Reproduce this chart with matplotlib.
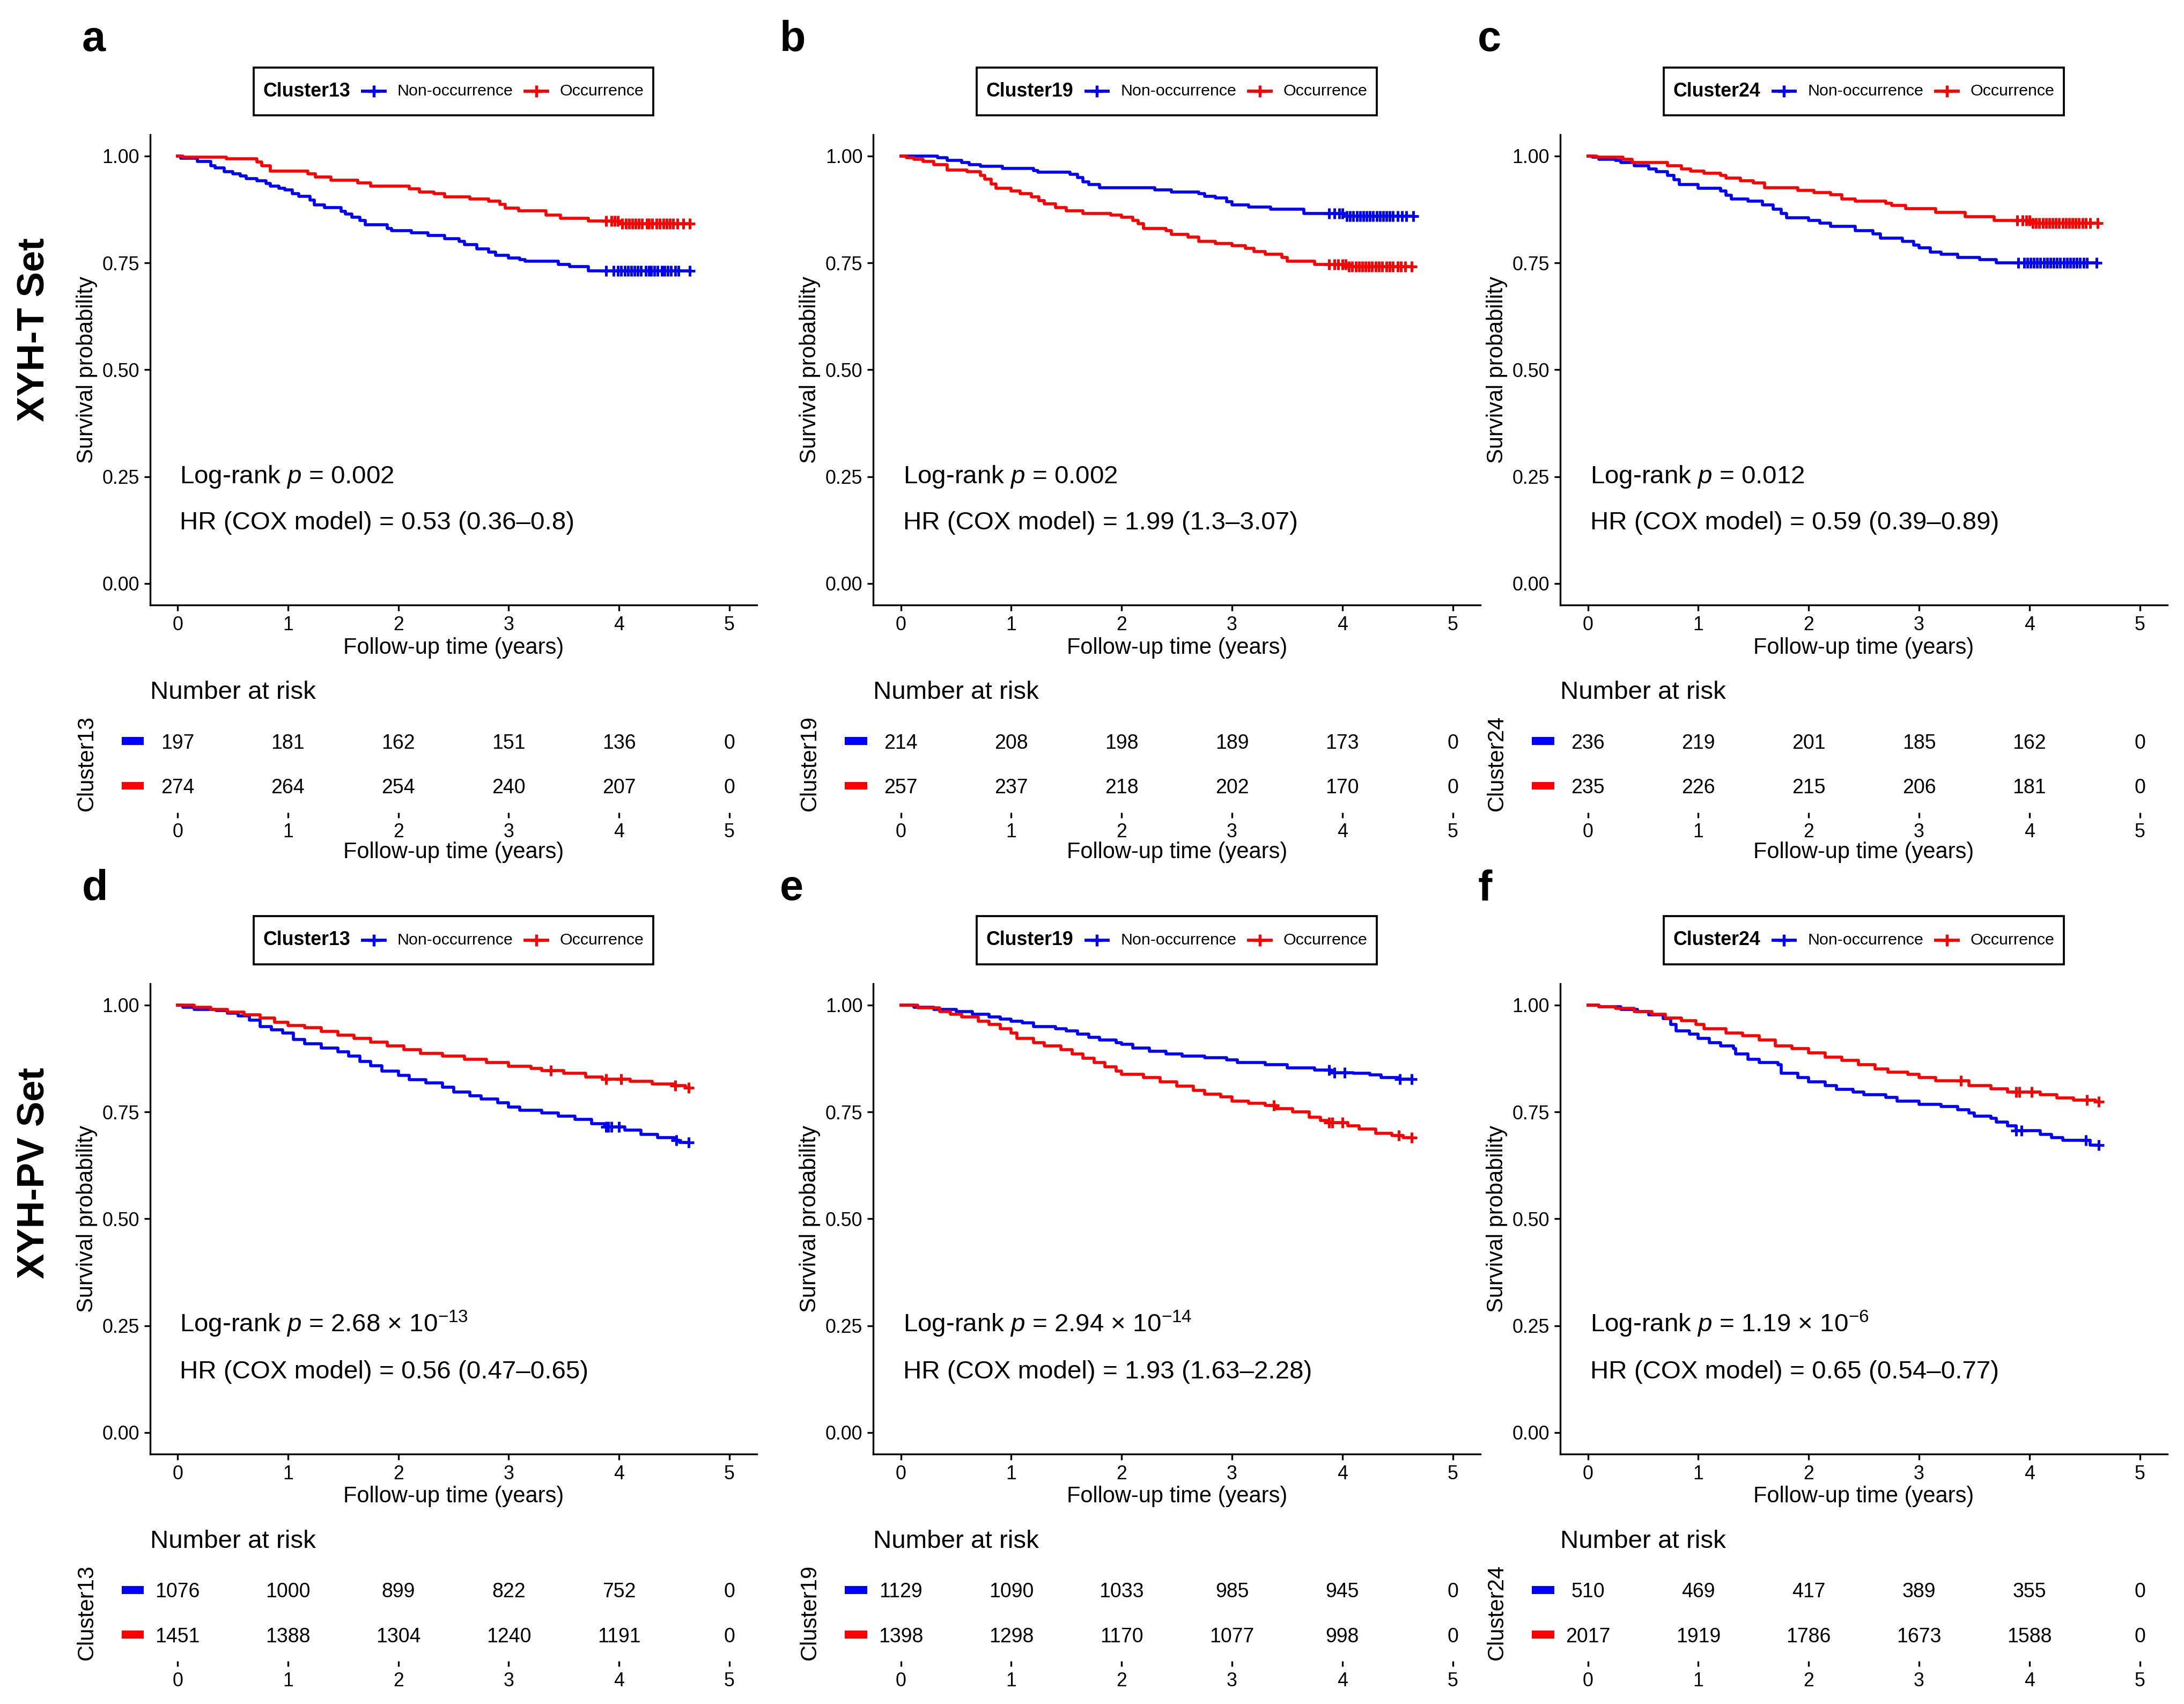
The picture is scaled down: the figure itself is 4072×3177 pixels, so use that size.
"""
Kaplan-Meier curves with number-at-risk tables for three clusters,
XYH-T set (top row) and XYH-PV set (bottom row).
Usage: python plot.py  ->  out.png
"""

import numpy as np
import matplotlib
matplotlib.use("Agg")
import matplotlib.pyplot as plt
import matplotlib.transforms as mtransforms
from matplotlib.lines import Line2D
from matplotlib.patches import Rectangle
from matplotlib.offsetbox import AnchoredOffsetbox, DrawingArea, HPacker, TextArea

plt.rcParams["font.family"] = ["Liberation Sans", "DejaVu Sans"]
plt.rcParams["mathtext.fontset"] = "custom"
plt.rcParams["mathtext.rm"] = "Liberation Sans"
plt.rcParams["mathtext.it"] = "Liberation Sans:italic"
plt.rcParams["mathtext.bf"] = "Liberation Sans:bold"

# ---------------- data ----------------
groups = ["Non-occurrence", "Occurrence"]
group_colors = ["#0000FF", "#FF0000"]
risk_times = [0, 1, 2, 3, 4, 5]
panel_letters = ["a", "b", "c", "d", "e", "f"]
cluster_names = ["Cluster13", "Cluster19", "Cluster24", "Cluster13", "Cluster19", "Cluster24"]
set_names = ["XYH-T Set", "XYH-PV Set"]

logrank_labels = [
    r"Log-rank $p$ = 0.002",
    r"Log-rank $p$ = 0.002",
    r"Log-rank $p$ = 0.012",
    r"Log-rank $p$ = 2.68 × 10$^{-13}$",
    r"Log-rank $p$ = 2.94 × 10$^{-14}$",
    r"Log-rank $p$ = 1.19 × 10$^{-6}$",
]
hr_labels = [
    "HR (COX model) = 0.53 (0.36–0.8)",
    "HR (COX model) = 1.99 (1.3–3.07)",
    "HR (COX model) = 0.59 (0.39–0.89)",
    "HR (COX model) = 0.56 (0.47–0.65)",
    "HR (COX model) = 1.93 (1.63–2.28)",
    "HR (COX model) = 0.65 (0.54–0.77)",
]

# panel a: XYH-T, Cluster13
a_non_t = [0, 0.03, 0.18, 0.30, 0.34, 0.42, 0.50, 0.57, 0.62, 0.72, 0.80, 0.84, 0.92, 0.97, 1.04,
           1.10, 1.20, 1.24, 1.33, 1.48, 1.52, 1.58, 1.65, 1.70, 1.90, 1.94, 2.12, 2.27, 2.42, 2.55,
           2.60, 2.71, 2.82, 2.88, 3.00, 3.10, 3.15, 3.45, 3.55, 3.72]
a_non_s = [1.0, 0.995, 0.988, 0.978, 0.972, 0.963, 0.958, 0.953, 0.947, 0.942, 0.936, 0.930, 0.925, 0.921, 0.912,
           0.906, 0.897, 0.886, 0.880, 0.871, 0.864, 0.857, 0.849, 0.839, 0.830, 0.826, 0.820, 0.814, 0.807, 0.801,
           0.793, 0.783, 0.775, 0.768, 0.762, 0.758, 0.754, 0.747, 0.741, 0.732]
a_non_cens = [3.88, 3.95, 3.99, 4.02, 4.05, 4.08, 4.11, 4.14, 4.17, 4.20, 4.24, 4.27, 4.29, 4.32, 4.35,
              4.39, 4.41, 4.44, 4.47, 4.51, 4.54, 4.64]
a_occ_t = [0, 0.05, 0.44, 0.72, 0.76, 0.84, 1.18, 1.25, 1.39, 1.63, 1.75, 2.10, 2.19, 2.32, 2.42,
           2.65, 2.82, 2.92, 2.97, 3.09, 3.34, 3.47, 3.72, 4.01]
a_occ_s = [1.0, 0.997, 0.994, 0.986, 0.978, 0.965, 0.958, 0.951, 0.944, 0.937, 0.930, 0.923, 0.916, 0.912, 0.904,
           0.900, 0.895, 0.887, 0.878, 0.872, 0.862, 0.854, 0.848, 0.842]
a_occ_cens = [3.88, 3.93, 3.96, 3.99, 4.03, 4.06, 4.09, 4.12, 4.15, 4.18, 4.21, 4.25, 4.27, 4.30, 4.34,
              4.37, 4.40, 4.43, 4.46, 4.49, 4.53, 4.58, 4.64]
a_risk_non = [197, 181, 162, 151, 136, 0]
a_risk_occ = [274, 264, 254, 240, 207, 0]

# panel b: XYH-T, Cluster19
b_non_t = [0, 0.33, 0.42, 0.55, 0.62, 0.72, 0.92, 1.20, 1.24, 1.53, 1.60, 1.65, 1.70, 1.80, 2.30,
           2.45, 2.70, 2.75, 2.85, 2.95, 3.00, 3.15, 3.35, 3.65, 4.02]
b_non_s = [1.0, 0.996, 0.990, 0.985, 0.980, 0.976, 0.971, 0.966, 0.962, 0.957, 0.950, 0.940, 0.933, 0.926, 0.921,
           0.916, 0.912, 0.906, 0.902, 0.893, 0.886, 0.881, 0.876, 0.866, 0.859]
b_non_cens = [3.88, 3.93, 3.97, 4.00, 4.04, 4.07, 4.10, 4.13, 4.16, 4.19, 4.22, 4.25, 4.28, 4.31, 4.34,
              4.37, 4.40, 4.43, 4.46, 4.50, 4.54, 4.58, 4.64]
b_occ_t = [0, 0.05, 0.12, 0.20, 0.30, 0.42, 0.60, 0.72, 0.76, 0.82, 0.86, 1.00, 1.08, 1.18, 1.25,
           1.30, 1.40, 1.50, 1.65, 1.90, 2.00, 2.10, 2.15, 2.20, 2.40, 2.45, 2.60, 2.70, 2.85, 3.00,
           3.12, 3.20, 3.30, 3.45, 3.50, 3.75, 4.05]
b_occ_s = [1.0, 0.996, 0.992, 0.988, 0.980, 0.967, 0.963, 0.955, 0.946, 0.935, 0.925, 0.918, 0.912, 0.905, 0.896,
           0.888, 0.880, 0.872, 0.866, 0.862, 0.857, 0.850, 0.842, 0.830, 0.826, 0.817, 0.810, 0.800, 0.795, 0.790,
           0.784, 0.777, 0.770, 0.763, 0.754, 0.747, 0.742]
b_occ_cens = [3.88, 3.93, 3.96, 4.00, 4.03, 4.06, 4.09, 4.12, 4.15, 4.18, 4.21, 4.24, 4.27, 4.30, 4.33,
              4.36, 4.40, 4.43, 4.46, 4.50, 4.53, 4.57, 4.63]
b_risk_non = [214, 208, 198, 189, 173, 0]
b_risk_occ = [257, 237, 218, 202, 170, 0]

# panel c: XYH-T, Cluster24
c_non_t = [0, 0.04, 0.10, 0.25, 0.30, 0.42, 0.55, 0.62, 0.72, 0.78, 0.83, 1.00, 1.20, 1.25, 1.30,
           1.45, 1.58, 1.68, 1.75, 1.80, 2.00, 2.10, 2.20, 2.42, 2.58, 2.65, 2.85, 2.95, 3.00, 3.10,
           3.20, 3.35, 3.55, 3.70]
c_non_s = [1.0, 0.997, 0.993, 0.990, 0.985, 0.978, 0.970, 0.963, 0.955, 0.945, 0.933, 0.925, 0.918, 0.908, 0.899,
           0.894, 0.886, 0.876, 0.866, 0.856, 0.850, 0.843, 0.836, 0.826, 0.818, 0.808, 0.800, 0.792, 0.785, 0.776,
           0.770, 0.763, 0.758, 0.750]
c_non_cens = [3.90, 3.95, 3.98, 4.01, 4.04, 4.07, 4.10, 4.13, 4.16, 4.19, 4.22, 4.25, 4.28, 4.31, 4.34,
              4.37, 4.40, 4.43, 4.46, 4.49, 4.52, 4.61]
c_occ_t = [0, 0.08, 0.32, 0.40, 0.72, 0.85, 0.93, 1.05, 1.20, 1.25, 1.38, 1.50, 1.60, 1.90, 2.05,
           2.20, 2.30, 2.42, 2.70, 2.75, 2.88, 3.15, 3.42, 3.68, 4.02]
c_occ_s = [1.0, 0.998, 0.992, 0.985, 0.977, 0.970, 0.965, 0.960, 0.955, 0.948, 0.942, 0.937, 0.926, 0.920, 0.915,
           0.910, 0.900, 0.895, 0.890, 0.884, 0.877, 0.868, 0.858, 0.850, 0.843]
c_occ_cens = [3.89, 3.94, 3.97, 4.00, 4.03, 4.06, 4.09, 4.12, 4.15, 4.18, 4.21, 4.24, 4.27, 4.30, 4.33,
              4.36, 4.39, 4.42, 4.45, 4.48, 4.51, 4.55, 4.62]
c_risk_non = [236, 219, 201, 185, 162, 0]
c_risk_occ = [235, 226, 215, 206, 181, 0]

# panel d: XYH-PV, Cluster13
d_non_t = [0, 0.05, 0.15, 0.35, 0.45, 0.55, 0.65, 0.75, 0.85, 0.95, 1.05, 1.15, 1.30, 1.45, 1.55,
           1.65, 1.75, 1.85, 2.00, 2.10, 2.25, 2.40, 2.50, 2.65, 2.75, 2.90, 3.00, 3.10, 3.30, 3.45,
           3.60, 3.75, 3.87, 4.05, 4.20, 4.35, 4.50, 4.55]
d_non_s = [1.0, 0.995, 0.990, 0.987, 0.981, 0.975, 0.965, 0.950, 0.942, 0.935, 0.920, 0.910, 0.900, 0.890, 0.880,
           0.868, 0.858, 0.846, 0.835, 0.825, 0.818, 0.808, 0.797, 0.788, 0.780, 0.772, 0.762, 0.754, 0.748, 0.740,
           0.732, 0.722, 0.715, 0.707, 0.698, 0.690, 0.683, 0.678]
d_non_cens = [3.88, 3.90, 3.93, 4.00, 4.52, 4.63]
d_occ_t = [0, 0.15, 0.30, 0.45, 0.60, 0.75, 0.88, 1.00, 1.15, 1.30, 1.45, 1.60, 1.75, 1.90, 2.05,
           2.20, 2.40, 2.60, 2.80, 3.00, 3.20, 3.30, 3.50, 3.70, 3.85, 4.10, 4.30, 4.50, 4.60]
d_occ_s = [1.0, 0.995, 0.990, 0.983, 0.977, 0.970, 0.960, 0.952, 0.947, 0.938, 0.930, 0.922, 0.913, 0.905, 0.896,
           0.887, 0.880, 0.873, 0.865, 0.857, 0.852, 0.847, 0.840, 0.832, 0.826, 0.821, 0.815, 0.811, 0.807]
d_occ_cens = [3.38, 3.88, 4.02, 4.51, 4.63]
d_risk_non = [1076, 1000, 899, 822, 752, 0]
d_risk_occ = [1451, 1388, 1304, 1240, 1191, 0]

# panel e: XYH-PV, Cluster19
e_non_t = [0, 0.12, 0.30, 0.50, 0.65, 0.80, 0.90, 1.00, 1.10, 1.20, 1.40, 1.50, 1.60, 1.70, 1.80,
           1.95, 2.00, 2.10, 2.25, 2.40, 2.55, 2.75, 2.95, 3.05, 3.30, 3.50, 3.75, 3.90, 4.10, 4.25,
           4.35, 4.52]
e_non_s = [1.0, 0.995, 0.990, 0.985, 0.978, 0.972, 0.967, 0.962, 0.958, 0.950, 0.945, 0.940, 0.932, 0.925, 0.918,
           0.912, 0.908, 0.900, 0.892, 0.885, 0.880, 0.877, 0.872, 0.865, 0.860, 0.853, 0.848, 0.842, 0.840, 0.837,
           0.830, 0.827]
e_non_cens = [3.88, 3.93, 4.02, 4.52, 4.63]
e_occ_t = [0, 0.15, 0.35, 0.45, 0.55, 0.70, 0.80, 0.90, 1.00, 1.05, 1.20, 1.30, 1.45, 1.55, 1.65,
           1.75, 1.85, 1.95, 2.00, 2.20, 2.35, 2.50, 2.65, 2.75, 2.90, 3.00, 3.15, 3.30, 3.40, 3.55,
           3.70, 3.80, 3.86, 4.05, 4.15, 4.30, 4.45, 4.55]
e_occ_s = [1.0, 0.993, 0.985, 0.978, 0.972, 0.962, 0.955, 0.945, 0.935, 0.922, 0.912, 0.905, 0.895, 0.885, 0.875,
           0.865, 0.855, 0.846, 0.838, 0.830, 0.820, 0.810, 0.800, 0.792, 0.785, 0.775, 0.770, 0.765, 0.757, 0.750,
           0.738, 0.730, 0.725, 0.718, 0.710, 0.700, 0.695, 0.690]
e_occ_cens = [3.38, 3.88, 3.91, 4.00, 4.51, 4.63]
e_risk_non = [1129, 1090, 1033, 985, 945, 0]
e_risk_occ = [1398, 1298, 1170, 1077, 998, 0]

# panel f: XYH-PV, Cluster24
f_non_t = [0, 0.10, 0.30, 0.45, 0.55, 0.68, 0.75, 0.80, 0.92, 1.00, 1.10, 1.20, 1.32, 1.34, 1.45,
           1.55, 1.72, 1.75, 1.90, 2.00, 2.15, 2.25, 2.40, 2.50, 2.70, 2.80, 3.00, 3.20, 3.35, 3.45,
           3.50, 3.65, 3.70, 3.80, 3.88, 4.10, 4.20, 4.30, 4.55]
f_non_s = [1.0, 0.996, 0.990, 0.985, 0.977, 0.968, 0.955, 0.940, 0.932, 0.922, 0.912, 0.905, 0.898, 0.885, 0.873,
           0.865, 0.860, 0.840, 0.830, 0.820, 0.812, 0.803, 0.797, 0.790, 0.784, 0.775, 0.768, 0.763, 0.755, 0.748,
           0.740, 0.735, 0.726, 0.717, 0.706, 0.698, 0.690, 0.683, 0.672]
f_non_cens = [3.88, 3.93, 4.51, 4.63]
f_occ_t = [0, 0.10, 0.25, 0.42, 0.58, 0.70, 0.85, 0.98, 1.05, 1.25, 1.40, 1.55, 1.70, 1.85, 2.00,
           2.15, 2.30, 2.45, 2.60, 2.72, 2.90, 3.00, 3.15, 3.45, 3.65, 3.80, 4.10, 4.25, 4.40, 4.60]
f_occ_s = [1.0, 0.996, 0.992, 0.985, 0.978, 0.970, 0.963, 0.955, 0.945, 0.935, 0.928, 0.918, 0.905, 0.898, 0.888,
           0.878, 0.870, 0.860, 0.850, 0.843, 0.838, 0.830, 0.823, 0.812, 0.804, 0.797, 0.790, 0.783, 0.778, 0.774]
f_occ_cens = [3.38, 3.88, 3.91, 4.02, 4.52, 4.63]
f_risk_non = [510, 469, 417, 389, 355, 0]
f_risk_occ = [2017, 1919, 1786, 1673, 1588, 0]

panels = [
    ((a_non_t, a_non_s, a_non_cens), (a_occ_t, a_occ_s, a_occ_cens), a_risk_non, a_risk_occ),
    ((b_non_t, b_non_s, b_non_cens), (b_occ_t, b_occ_s, b_occ_cens), b_risk_non, b_risk_occ),
    ((c_non_t, c_non_s, c_non_cens), (c_occ_t, c_occ_s, c_occ_cens), c_risk_non, c_risk_occ),
    ((d_non_t, d_non_s, d_non_cens), (d_occ_t, d_occ_s, d_occ_cens), d_risk_non, d_risk_occ),
    ((e_non_t, e_non_s, e_non_cens), (e_occ_t, e_occ_s, e_occ_cens), e_risk_non, e_risk_occ),
    ((f_non_t, f_non_s, f_non_cens), (f_occ_t, f_occ_s, f_occ_cens), f_risk_non, f_risk_occ),
]

# ---------------- layout (measured on a 1568 px wide copy) ----------------
FIG_W, FIG_H, DPI = 4072, 3177, 300
REF_W = 1568.0
K = FIG_W / REF_W


def fx(x):
    return x / REF_W


def fy(y):
    return 1 - y * K / FIG_H


col_left = [107.7, 627.0, 1120.2]
col_right = [543.5, 1062.8, 1556.1]
letter_x = [58.8, 560.0, 1061.0]
row_shift = [0.0, 609.5]
set_label_y = [236.5, 842.0]
MAIN_TOP, MAIN_BOT = 96.7, 434.3
RISK_TOP, RISK_BOT = 512.8, 583.2

LW_AX = 0.8
FS_TICK, FS_TITLE, FS_NOTE = 8.6, 10, 11.4

fig = plt.figure(figsize=(FIG_W / DPI, FIG_H / DPI), dpi=DPI)


def style_axes(ax):
    ax.set_xlim(-0.25, 5.25)
    ax.set_xticks(risk_times)
    for sp in ["top", "right"]:
        ax.spines[sp].set_visible(False)
    for sp in ["left", "bottom"]:
        ax.spines[sp].set_linewidth(LW_AX)
    ax.tick_params(length=2.6, width=LW_AX, pad=2.2, labelsize=FS_TICK, colors="black")


def add_legend(title, cx, cy):
    items = [TextArea(title, textprops=dict(fontsize=8.6, fontweight="bold"))]
    for lab, col in zip(groups, group_colors):
        key = DrawingArea(10, 13, 0, 0)
        key.add_artist(Line2D([0, 10], [6.5, 6.5], color=col, lw=1.4))
        key.add_artist(Line2D([5], [6.5], marker="+", ms=5.5, mew=1.3, color=col))
        items += [key, TextArea(lab, textprops=dict(fontsize=7.3))]
    box = HPacker(children=items, align="center", pad=0, sep=5.5)
    anchored = AnchoredOffsetbox(loc="center", child=box, pad=0.42, borderpad=0, frameon=True,
                                 prop=dict(size=10), bbox_to_anchor=(fx(cx), fy(cy)),
                                 bbox_transform=fig.transFigure)
    anchored.patch.set_edgecolor("black")
    anchored.patch.set_linewidth(0.9)
    fig.add_artist(anchored)


for i, (non, occ, risk_non, risk_occ) in enumerate(panels):
    col, row = i % 3, i // 3
    dy = row_shift[row]
    left, right = col_left[col], col_right[col]
    mid = (left + right) / 2

    # ---- survival curves ----
    ax = fig.add_axes([fx(left), fy(MAIN_BOT + dy), fx(right) - fx(left),
                       fy(MAIN_TOP + dy) - fy(MAIN_BOT + dy)])
    for (t, s, cens), colr in zip([non, occ], group_colors):
        t = np.asarray(t)
        s = np.asarray(s)
        t_end = max(cens)
        ax.step(np.r_[t, t_end], np.r_[s, s[-1]], where="post", color=colr, lw=1.35)
        idx = np.searchsorted(t, cens, side="right") - 1
        ax.plot(cens, s[idx], ls="none", marker="+", ms=4.6, mew=1.2, color=colr)
    style_axes(ax)
    ax.set_ylim(-0.05, 1.05)
    ax.set_yticks([0, 0.25, 0.5, 0.75, 1.0])
    ax.set_yticklabels(["0.00", "0.25", "0.50", "0.75", "1.00"])
    ax.text(0.02, 0.235, logrank_labels[i], fontsize=FS_NOTE, ha="left", va="baseline")
    ax.text(0.02, 0.127, hr_labels[i], fontsize=FS_NOTE, ha="left", va="baseline")

    fig.text(fx(left - 45.5), fy((MAIN_TOP + MAIN_BOT) / 2 + dy), "Survival probability",
             rotation=90, ha="center", va="center", fontsize=FS_TITLE)
    fig.text(fx(mid), fy(465 + dy), "Follow-up time (years)", ha="center", va="center",
             fontsize=FS_TITLE)
    fig.text(fx(letter_x[col]), fy(36.7 + dy), panel_letters[i], ha="left", va="baseline",
             fontsize=19, fontweight="bold")
    add_legend(cluster_names[i], mid, 65.5 + dy)

    # ---- number at risk table ----
    rx = fig.add_axes([fx(left), fy(RISK_BOT + dy), fx(right) - fx(left),
                       fy(RISK_TOP + dy) - fy(RISK_BOT + dy)])
    style_axes(rx)
    rx.set_ylim(0.4, 2.6)
    rx.set_yticks([])
    for sp in rx.spines.values():
        sp.set_visible(False)
    rx.tick_params(axis="x", length=2.3, pad=2.3)
    bar_tr = mtransforms.blended_transform_factory(rx.transAxes, rx.transData)
    width = right - left
    for yrow, counts, colr in [(2, risk_non, group_colors[0]), (1, risk_occ, group_colors[1])]:
        for t, n in zip(risk_times, counts):
            rx.text(t, yrow, str(n), ha="center", va="center_baseline", fontsize=9)
        rx.add_patch(Rectangle((-20.4 / width, yrow - 0.086), 16.0 / width, 0.172,
                               transform=bar_tr, facecolor=colr, edgecolor="none", clip_on=False))

    fig.text(fx(left), fy(501.9 + dy), "Number at risk", ha="left", va="baseline", fontsize=FS_NOTE)
    # the bottom row's table axis title falls outside the figure in the original
    if row == 0:
        fig.text(fx(mid), fy(612 + dy), "Follow-up time (years)", ha="center", va="center",
                 fontsize=FS_TITLE)
    fig.text(fx(left - 45.5), fy((RISK_TOP + RISK_BOT) / 2 + dy), cluster_names[i],
             rotation=90, ha="center", va="center", fontsize=FS_TITLE)

for row, name in enumerate(set_names):
    fig.text(fx(24.8), fy(set_label_y[row]), name, rotation=90, ha="center", va="center",
             fontsize=17, fontweight="bold")

fig.savefig("out.png", dpi=DPI)
print("Saved out.png")
